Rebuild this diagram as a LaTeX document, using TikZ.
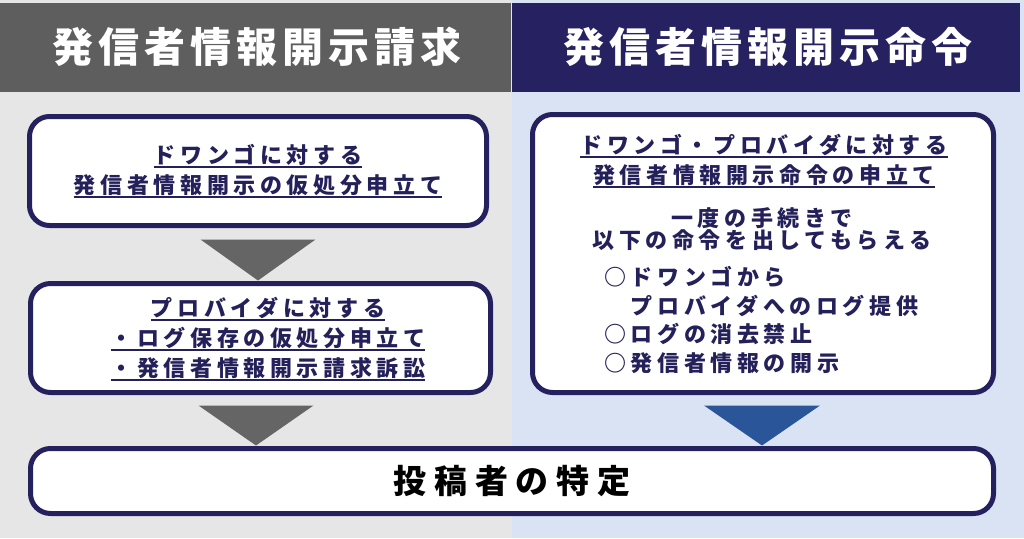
\documentclass[tikz,border=0pt]{standalone}
\usepackage{fontspec}
\setmainfont{Noto Sans CJK JP}
\newfontfamily\headfont{Noto Sans CJK JP Black}[LetterSpace=12]
\newfontfamily\boxfont{Noto Sans CJK JP Black}[LetterSpace=21]
\newfontfamily\endfont{Noto Sans CJK JP Black}[LetterSpace=24]

\definecolor{bggray}{HTML}{E6E6E6}
\definecolor{bgblue}{HTML}{DAE3F3}
\definecolor{headgray}{HTML}{5E5E5E}
\definecolor{headnavy}{HTML}{262261}
\definecolor{boxnavy}{HTML}{25205E}
\definecolor{textnavy}{HTML}{23205A}
\definecolor{arrowgray}{HTML}{656565}
\definecolor{arrowblue}{HTML}{2A5599}

\newcommand{\ulinetext}[1]{\setbox0\hbox{#1}\rlap{\rule[-5pt]{\wd0}{1.8pt}}\box0}

\tikzset{
  flowbox/.style={draw=boxnavy, line width=5pt, rounded corners=20pt, fill=white, inner sep=0pt},
  boxtext/.style={text=textnavy, align=center, inner sep=0pt, font=\boxfont\fontsize{22pt}{30pt}\selectfont},
  headtext/.style={text=white, inner sep=0pt, font=\headfont\fontsize{41pt}{41pt}\selectfont},
}

\begin{document}
\begin{tikzpicture}[x=1pt,y=-1pt]
        \useasboundingbox (0,0) rectangle (1024,538);

        \fill[bggray] (0,0) rectangle (512,538);% left half
        \fill[bgblue] (512,0) rectangle (1024,538);% right half

        \fill[headgray] (0,3) rectangle (511,92);% left header
        \fill[headnavy] (512,3) rectangle (1020,92);% right header
        \node[headtext] (lhead) at (257,47) {発信者情報開示請求};
        \node[headtext] (rhead) at (768,47) {発信者情報開示命令};

        % left column
        \node[flowbox, boxtext, minimum width=457pt, minimum height=109pt] (b1) at (258,171)
            {\ulinetext{ドワンゴに対する}\\\ulinetext{発信者情報開示の仮処分申立て}};
        \node[flowbox, minimum width=460pt, minimum height=109pt] (b2) at (260.5,338) {};
        \node[boxtext] (b2text) at (268,339)
            {\ulinetext{プロバイダに対する}\\\ulinetext{・ログ保存の仮処分申立て}\\\ulinetext{・発信者情報開示請求訴訟}};

        % right column
        \node[flowbox, minimum width=461pt, minimum height=278pt] (rbox) at (763,253.5) {};
        \node[boxtext] (rtitle) at (764,161)
            {\ulinetext{ドワンゴ・プロバイダに対する}\\\ulinetext{発信者情報開示命令の申立て}};
        \node[boxtext, font=\boxfont\fontsize{22pt}{22pt}\selectfont] (rnote) at (762,229)
            {一度の手続きで\\以下の命令を出してもらえる};
        \node[boxtext, align=left, anchor=west, font=\boxfont\fontsize{22pt}{28.5pt}\selectfont] (rlist) at (604,320)
            {○ドワンゴから\\　プロバイダへのログ提供\\○ログの消去禁止\\○発信者情報の開示};

        % result
        \node[flowbox, minimum width=963pt, minimum height=65pt, inner sep=0pt,
              font=\endfont\fontsize{33pt}{33pt}\selectfont] (final) at (512,481) {投稿者の特定};

        % flow triangles
        \fill[arrowgray] ([xshift=-57.5pt,yshift=-11.5pt]b1.south) -- ([xshift=57.5pt,yshift=-11.5pt]b1.south)
            -- ([yshift=-52.5pt]b1.south) -- cycle;
        \fill[arrowgray] ([xshift=-62pt,yshift=-10.5pt]b2.south) -- ([xshift=53pt,yshift=-10.5pt]b2.south)
            -- ([xshift=-4.5pt,yshift=-50.5pt]b2.south) -- cycle;
        \fill[arrowblue] ([xshift=-59pt,yshift=-10.5pt]rbox.south) -- ([xshift=57pt,yshift=-10.5pt]rbox.south)
            -- ([xshift=-1pt,yshift=-50.5pt]rbox.south) -- cycle;

    \end{tikzpicture}
\end{document}
